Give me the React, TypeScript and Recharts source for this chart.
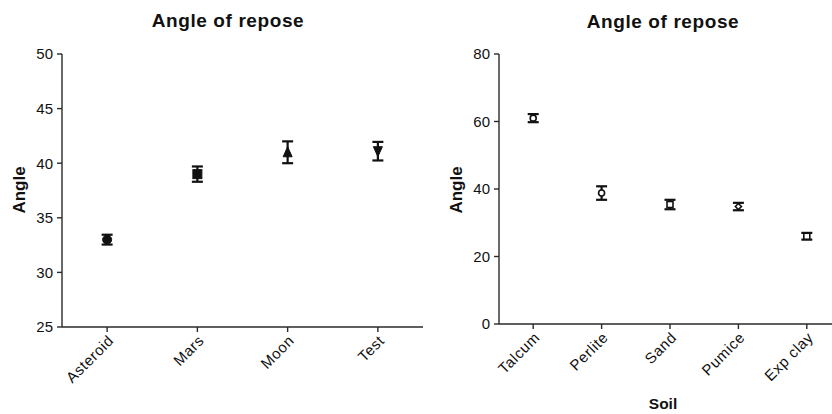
import React from 'react';
import {
  ComposedChart, Scatter, ErrorBar, XAxis, YAxis,
} from 'recharts';

// Left panel: bodies
const LEFT_CATEGORIES = ['Asteroid', 'Mars', 'Moon', 'Test'];
const LEFT_MEANS = [33, 39, 41, 41.1];
const LEFT_ERRORS = [0.45, 0.7, 1, 0.85];
const LEFT_TICKS = [25, 30, 35, 40, 45, 50];

// Right panel: soils
const RIGHT_CATEGORIES = ['Talcum', 'Perlite', 'Sand', 'Pumice', 'Exp clay'];
const RIGHT_MEANS = [61, 38.8, 35.4, 34.8, 26];
const RIGHT_ERRORS = [1.2, 2, 1.4, 1.1, 1];
const RIGHT_TICKS = [0, 20, 40, 60, 80];

type MarkerKind = 'circle' | 'square' | 'triangle' | 'down' | 'diamond';

const LEFT_MARKERS: MarkerKind[] = ['circle', 'square', 'triangle', 'down'];
const RIGHT_MARKERS: MarkerKind[] = ['circle', 'circle', 'square', 'diamond', 'square'];

const FONT = '"Liberation Sans", Arial, sans-serif';
const INK = '#111';
const FRAME = '#2a2a2a';

function buildRows(cats: string[], means: number[], errs: number[]) {
  return cats.map((name, i) => ({ name, value: means[i], err: errs[i] }));
}

function makeShape(cats: string[], kinds: MarkerKind[], filled: boolean, size: number) {
  return (props: any) => {
    const { cx, cy, payload } = props;
    if (cx == null || cy == null) return <g />;
    const kind = kinds[cats.indexOf(payload?.name)] ?? 'circle';
    const fill = filled ? INK : '#fff';
    const sw = filled ? 1 : 1.6;
    const h = size / 2;
    if (kind === 'circle') return <circle cx={cx} cy={cy} r={h} fill={fill} stroke={INK} strokeWidth={sw} />;
    if (kind === 'square') return <rect x={cx - h} y={cy - h} width={size} height={size} fill={fill} stroke={INK} strokeWidth={sw} />;
    if (kind === 'triangle') return <polygon points={`${cx},${cy - h - 1} ${cx - h},${cy + h} ${cx + h},${cy + h}`} fill={fill} stroke={INK} strokeWidth={sw} />;
    if (kind === 'down') return <polygon points={`${cx},${cy + h + 1} ${cx - h},${cy - h} ${cx + h},${cy - h}`} fill={fill} stroke={INK} strokeWidth={sw} />;
    return <polygon points={`${cx},${cy - h} ${cx + h},${cy} ${cx},${cy + h} ${cx - h},${cy}`} fill={fill} stroke={INK} strokeWidth={sw} />;
  };
}

const yTickStyle = { fontSize: 15, fill: '#111', fontFamily: FONT };
const xTickStyle = { fontSize: 15, fill: '#111', fontFamily: FONT, letterSpacing: 0.6 };

function Panel(props: {
  width: number; rows: any[]; domain: [number, number]; ticks: number[];
  margin: any; yWidth: number; xHeight: number; shape: any; capWidth: number; rightEdge: boolean;
}) {
  const { width, rows, domain, ticks, margin, yWidth, xHeight, shape, capWidth, rightEdge } = props;
  // half a category band on each side so points sit in the middle of their slots
  const plotW = width - margin.left - margin.right - yWidth;
  const pad = plotW / (2 * rows.length);
  return (
    <ComposedChart width={width} height={414} data={rows} margin={margin}>
      <XAxis
        dataKey="name"
        type="category"
        interval={0}
        padding={{ left: pad, right: pad }}
        angle={-45}
        textAnchor="end"
        height={xHeight}
        tick={xTickStyle}
        tickSize={5}
        tickMargin={2}
        axisLine={{ stroke: FRAME, strokeWidth: 1.4 }}
        tickLine={{ stroke: FRAME, strokeWidth: 1.4 }}
      />
      <XAxis
        xAxisId="top"
        orientation="top"
        dataKey="name"
        type="category"
        height={0}
        tick={false}
        tickLine={false}
        axisLine={{ stroke: FRAME, strokeWidth: 1.4 }}
      />
      <YAxis
        type="number"
        domain={domain}
        ticks={ticks}
        allowDataOverflow
        width={yWidth}
        tick={yTickStyle}
        tickSize={5}
        tickMargin={4}
        axisLine={{ stroke: FRAME, strokeWidth: 1.4 }}
        tickLine={{ stroke: FRAME, strokeWidth: 1.4 }}
      />
      {rightEdge && (
        <YAxis
          yAxisId="right"
          orientation="right"
          type="number"
          domain={domain}
          width={0}
          tick={false}
          tickLine={false}
          axisLine={{ stroke: FRAME, strokeWidth: 1.4 }}
        />
      )}
      <Scatter dataKey="value" shape={shape} isAnimationActive={false}>
        <ErrorBar dataKey="err" direction="y" width={capWidth} strokeWidth={2.2} stroke={INK} isAnimationActive={false} />
      </Scatter>
    </ComposedChart>
  );
}

const abs = (extra: React.CSSProperties): React.CSSProperties => ({
  position: 'absolute', fontFamily: FONT, color: INK, whiteSpace: 'nowrap', ...extra,
});

export default function App() {
  const leftRows = buildRows(LEFT_CATEGORIES, LEFT_MEANS, LEFT_ERRORS);
  const rightRows = buildRows(RIGHT_CATEGORIES, RIGHT_MEANS, RIGHT_ERRORS);
  return (
    <div style={{ position: 'fixed', left: 0, top: 0, width: 832, height: 414, overflow: 'hidden', background: '#fff' }}>
      <div style={{ position: 'absolute', left: 0, top: 0, width: 424, height: 414 }}>
        <Panel
          width={424}
          rows={leftRows}
          domain={[25, 50]}
          ticks={LEFT_TICKS}
          margin={{ top: 54, right: 1, bottom: 27, left: 22 }}
          yWidth={40}
          xHeight={60}
          shape={makeShape(LEFT_CATEGORIES, LEFT_MARKERS, true, 9)}
          capWidth={5.5}
          rightEdge
        />
      </div>
      <div style={{ position: 'absolute', left: 420, top: 0, width: 422, height: 414 }}>
        <Panel
          width={422}
          rows={rightRows}
          domain={[0, 80]}
          ticks={RIGHT_TICKS}
          margin={{ top: 54, right: 1, bottom: 30, left: 29 }}
          yWidth={50}
          xHeight={60}
          shape={makeShape(RIGHT_CATEGORIES, RIGHT_MARKERS, false, 6)}
          capWidth={5.5}
          rightEdge={false}
        />
      </div>
      <div style={abs({ left: 228, top: 21, transform: 'translate(-50%, -50%)', fontSize: 19, fontWeight: 700, letterSpacing: 0.6 })}>Angle of repose</div>
      <div style={abs({ left: 663, top: 22, transform: 'translate(-50%, -50%)', fontSize: 19, fontWeight: 700, letterSpacing: 0.6 })}>Angle of repose</div>
      <div style={abs({ left: 20, top: 190, transform: 'translate(-50%, -50%) rotate(-90deg)', fontSize: 17, fontWeight: 700 })}>Angle</div>
      <div style={abs({ left: 457, top: 190, transform: 'translate(-50%, -50%) rotate(-90deg)', fontSize: 17, fontWeight: 700 })}>Angle</div>
      <div style={abs({ left: 663, top: 404, transform: 'translate(-50%, -50%)', fontSize: 15.5, fontWeight: 700 })}>Soil</div>
    </div>
  );
}
